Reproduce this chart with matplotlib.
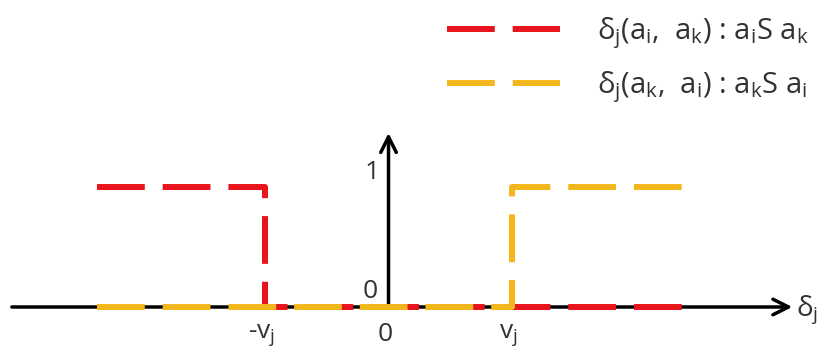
import matplotlib.pyplot as plt

plt.rcParams['font.family'] = ['Open Sans', 'DejaVu Sans']
plt.rcParams['mathtext.fontset'] = 'custom'
plt.rcParams['mathtext.rm'] = 'Open Sans'
plt.rcParams['mathtext.it'] = 'Open Sans'
plt.rcParams['mathtext.default'] = 'regular'

# threshold v_j = 1, step functions
red_x = [-2.36, -1, -1, 2.38]
red_y = [1, 1, 0, 0]
yellow_x = [-2.36, 1, 1, 2.38]
yellow_y = [0, 0, 1, 1]

legend_labels = [r'$\delta_j$($a_i$,  $a_k$) : $a_i$S $a_k$',
                 r'$\delta_j$($a_k$,  $a_i$) : $a_k$S $a_i$']
xtick_pos = [-1, 0, 1]
xtick_labels = [r'-$v_j$', '0', r'$v_j$']

RED = '#e8141b'
YEL = '#f2b71c'
TXT = '#333333'

fig = plt.figure(figsize=(8.21, 3.61), dpi=100)
ax = fig.add_axes([0, 0, 1, 1])
ax.set_xlim(-3.146, 3.502)
ax.set_ylim(-0.45, 2.558)
ax.axis('off')

# axes with arrows
ax.annotate('', xy=(3.27, 0), xytext=(-3.05, 0),
            arrowprops=dict(arrowstyle='->', lw=2.5, color='black',
                            mutation_scale=28, shrinkA=0, shrinkB=0), zorder=1)
ax.annotate('', xy=(0, 1.45), xytext=(0, 0),
            arrowprops=dict(arrowstyle='->', lw=2.5, color='black',
                            mutation_scale=28, shrinkA=0, shrinkB=0), zorder=1)

ax.plot(red_x, red_y, color=RED, lw=4.3, ls=(0, (8, 3)), zorder=2,
        label=legend_labels[0])
ax.plot(yellow_x, yellow_y, color=YEL, lw=4.3, ls=(0, (8, 3)), zorder=3,
        label=legend_labels[1])

# labels
for p, t in zip(xtick_pos, xtick_labels):
    ax.text(p - 0.03, -0.23, t, ha='center', va='center', fontsize=19, color=TXT)
ax.text(-0.13, 1.12, '1', ha='center', va='center', fontsize=19, color=TXT)
ax.text(-0.15, 0.13, '0', ha='center', va='center', fontsize=19, color=TXT)
ax.text(3.3, -0.02, r'$\delta_j$', ha='left', va='center', fontsize=20, color=TXT)

leg = ax.legend(loc='upper left', bbox_to_anchor=(447 / 821, 1 - 15 / 361),
                frameon=False, fontsize=21, handlelength=3.87, handletextpad=1.27,
                labelspacing=0.62, borderpad=0, borderaxespad=0,
                labelcolor=TXT)

fig.savefig('out.png', dpi=100)
